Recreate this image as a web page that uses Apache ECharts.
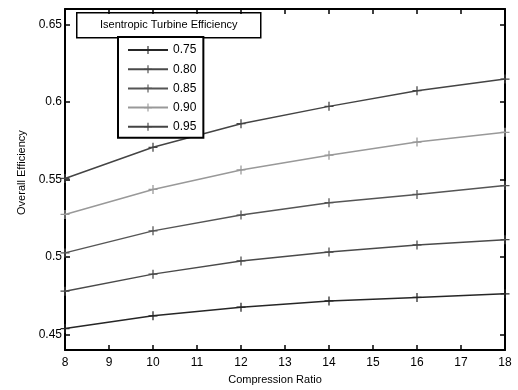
<!DOCTYPE html>
<html>
<head>
<meta charset="utf-8">
<script src="https://cdn.jsdelivr.net/npm/echarts@6/dist/echarts.min.js"></script>
<style>html,body{margin:0;padding:0;background:#fff}#c{width:518px;height:390px}</style>
</head>
<body>
<div id="c"></div>
<script>
var compressionRatio = [8, 10, 12, 14, 16, 18];
var seriesNames = ['0.75', '0.80', '0.85', '0.90', '0.95'];
var eff075 = [0.4539, 0.4621, 0.4677, 0.4717, 0.4740, 0.4763];
var eff080 = [0.4780, 0.4890, 0.4975, 0.5032, 0.5078, 0.5112];
var eff085 = [0.5027, 0.5169, 0.5271, 0.5351, 0.5404, 0.5461];
var eff090 = [0.5275, 0.5436, 0.5562, 0.5657, 0.5742, 0.5805];
var eff095 = [0.5507, 0.5708, 0.5860, 0.5972, 0.6073, 0.6148];
var yTicks = [0.45, 0.5, 0.55, 0.6, 0.65];
var xTicks = [8, 9, 10, 11, 12, 13, 14, 15, 16, 17, 18];

var seriesValues = [eff075, eff080, eff085, eff090, eff095];
var colors = ['#262626', '#4a4a4a', '#555555', '#999999', '#444444'];
var plus = 'path://M4.3,0H5.7V4.3H10V5.7H5.7V10H4.3V5.7H0V4.3H4.3Z';
var FONT = 'Liberation Sans, Arial, sans-serif';

var chart = echarts.init(document.getElementById('c'), null, {renderer: 'canvas'});

function pairs(vals) {
  return compressionRatio.map(function (x, i) { return [x, vals[i]]; });
}

var series = seriesNames.map(function (n, i) {
  return {
    name: n,
    type: 'line',
    data: pairs(seriesValues[i]),
    symbol: plus,
    symbolSize: 9,
    showSymbol: true,
    lineStyle: {color: colors[i], width: 1.5},
    itemStyle: {color: colors[i]},
    animation: false,
    z: 3
  };
});

var axisLineStyle = {show: true, lineStyle: {color: '#000', width: 2}};
var tickStyle = {show: true, inside: true, length: 5, lineStyle: {color: '#000', width: 1.5}};

chart.setOption({
  animation: false,
  grid: {left: 65, top: 9, right: 13, bottom: 35, containLabel: false},
  legend: {
    data: seriesNames,
    orient: 'vertical',
    left: 118,
    top: 37,
    itemWidth: 40,
    itemHeight: 10,
    itemGap: 7.2,
    padding: [7, 7, 5, 9],
    backgroundColor: '#fff',
    borderColor: '#000',
    borderWidth: 2,
    textStyle: {fontFamily: FONT, fontSize: 12, color: '#000', padding: [0, 0, 0, 0]},
    selectedMode: false,
    z: 10
  },
  graphic: [{
    type: 'group',
    left: 76,
    top: 12,
    z: 20,
    children: [{
      type: 'rect',
      shape: {x: 0, y: 0, width: 184, height: 25},
      style: {fill: '#fff', stroke: '#000', lineWidth: 1.5}
    }, {
      type: 'text',
      x: 92, y: 12.5,
      style: {text: 'Isentropic Turbine Efficiency', font: '11px ' + FONT, fill: '#000', align: 'center', verticalAlign: 'middle'}
    }]
  }],
  xAxis: [{
    type: 'value', position: 'bottom', min: 8, max: 18, interval: 1,
    name: 'Compression Ratio', nameLocation: 'middle', nameGap: 22,
    nameTextStyle: {fontFamily: FONT, fontSize: 11, color: '#000', padding: [0, 20, 0, 0]},
    axisLine: axisLineStyle, axisTick: tickStyle,
    axisLabel: {fontFamily: FONT, fontSize: 12, color: '#000', margin: 7},
    splitLine: {show: false}
  }, {
    type: 'value', position: 'top', min: 8, max: 18, interval: 1,
    axisLine: axisLineStyle, axisTick: tickStyle,
    axisLabel: {show: false}, splitLine: {show: false}
  }],
  yAxis: [{
    type: 'value', position: 'left', min: 0.44, max: 0.66,
    name: 'Overall Efficiency', nameLocation: 'middle', nameGap: 37,
    nameTextStyle: {fontFamily: FONT, fontSize: 11, color: '#000', padding: [0, 0, 0, 14]},
    axisLine: axisLineStyle,
    axisTick: Object.assign({customValues: yTicks}, tickStyle),
    axisLabel: {customValues: yTicks, fontFamily: FONT, fontSize: 12, color: '#000', margin: 3,
      formatter: function (v) { return String(+(+v).toFixed(2)); }},
    splitLine: {show: false}
  }, {
    type: 'value', position: 'right', min: 0.44, max: 0.66,
    axisLine: axisLineStyle,
    axisTick: Object.assign({customValues: yTicks}, tickStyle),
    axisLabel: {show: false}, splitLine: {show: false}
  }],
  series: series
});
</script>
</body>
</html>
